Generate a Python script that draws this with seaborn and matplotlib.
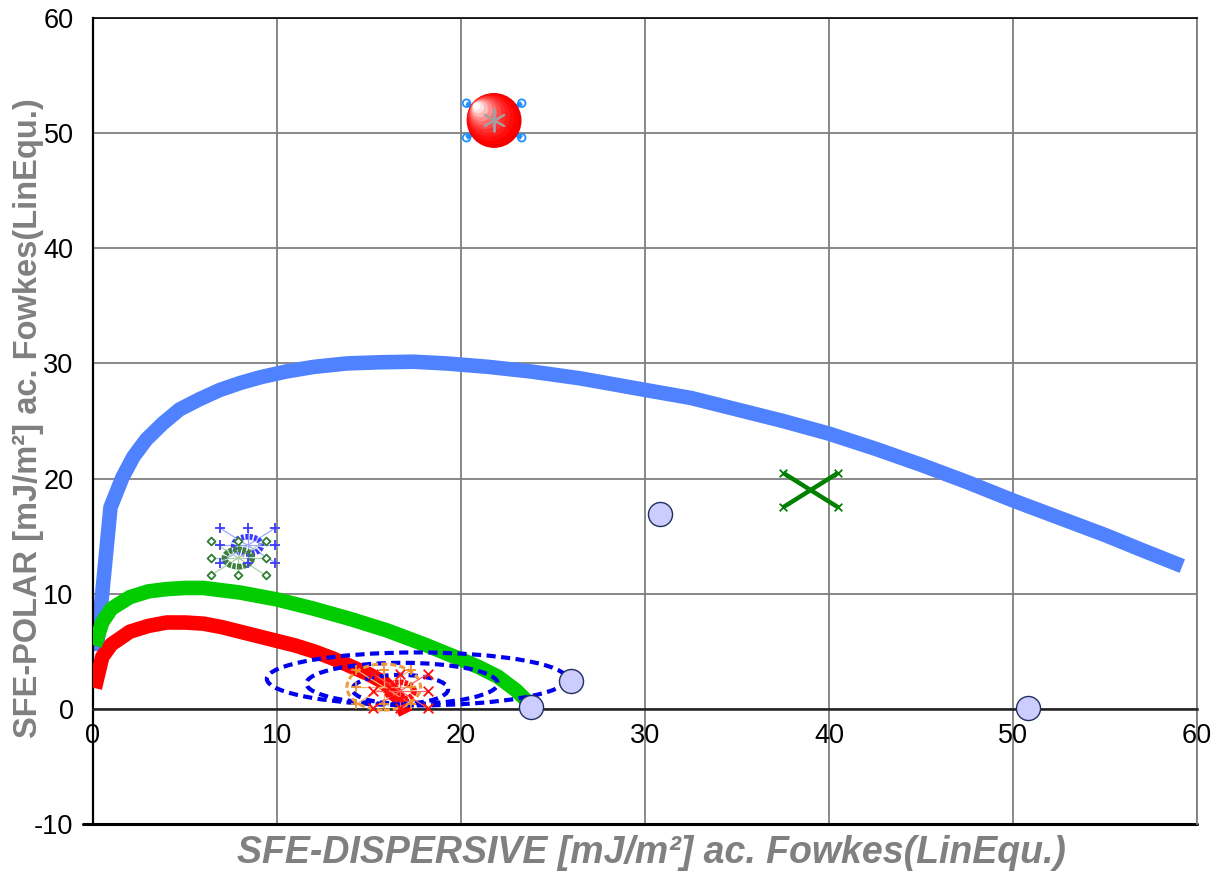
import matplotlib
matplotlib.use("Agg")
import numpy as np
import pandas as pd
import matplotlib.pyplot as plt
from matplotlib.patches import Ellipse
import seaborn as sns

# ---- wetting envelopes (theta = 0) ----
env_blue_x = [0.2, 0.95, 1.3, 1.6, 2.2, 2.9, 3.8, 4.7, 5.8, 6.9, 8.0, 9.1, 10.5, 12.0, 13.8, 15.6, 17.4,
              19.2, 21.5, 23.8, 26.5, 30.0, 32.5, 35.0, 37.5, 40.0, 42.5, 45.0, 47.5, 50.0, 52.5, 55.0, 57.0, 59.2]
env_blue_y = [5.0, 17.5, 18.9, 20.1, 21.9, 23.4, 24.8, 26.0, 26.9, 27.7, 28.3, 28.8, 29.3, 29.7, 30.0, 30.1, 30.15,
              30.0, 29.7, 29.3, 28.7, 27.7, 27.0, 26.0, 25.0, 23.9, 22.6, 21.2, 19.7, 18.1, 16.6, 15.1, 13.8, 12.4]

env_green_x = [0.1, 0.5, 1.0, 2.0, 3.0, 4.0, 5.0, 6.0, 7.0, 8.0, 9.0, 10.0, 12.0, 14.0, 16.0, 18.0, 20.0, 21.0, 22.0, 23.0, 23.5, 23.8]
env_green_y = [5.5, 7.5, 8.7, 9.7, 10.2, 10.4, 10.5, 10.5, 10.3, 10.1, 9.8, 9.5, 8.7, 7.8, 6.8, 5.6, 4.3, 3.6, 2.8, 1.6, 0.8, -0.2]

env_red_x = [0.1, 0.5, 1.0, 2.0, 3.0, 4.0, 5.0, 6.0, 7.0, 8.0, 9.0, 10.0, 11.0, 12.0, 13.0, 14.0, 15.0, 15.8, 16.5, 17.0]
env_red_y = [1.8, 4.5, 5.6, 6.7, 7.2, 7.5, 7.5, 7.4, 7.1, 6.7, 6.3, 5.9, 5.5, 5.0, 4.4, 3.7, 3.0, 2.3, 1.2, -0.4]

# ---- confidence ellipses of the sample (centre x, centre y, half-width, half-height) ----
ell_cx = [17.6, 16.8, 16.7]
ell_cy = [2.6, 2.2, 1.7]
ell_rx = [8.15, 5.2, 2.6]
ell_ry = [2.3, 1.8, 1.25]

# ---- liquids / samples with spread ----
grp_names = ["blue_plus", "green_diamond", "orange_plus", "red_x"]
grp_cx = [8.4, 7.9, 15.8, 16.7]
grp_cy = [14.2, 13.1, 1.9, 1.55]
grp_ring = [0.75, 0.75, 2.0, 0.75]
grp_spread = [1.5, 1.5, 1.5, 1.5]

cross_cx = [21.8, 39.0]
cross_cy = [51.1, 19.0]
cross_spread = [1.5, 1.5]

# ---- single liquid points ----
liq_x = [30.8, 26.0, 23.8, 50.8]
liq_y = [16.9, 2.4, 0.2, 0.1]

x_ticks = [0, 10, 20, 30, 40, 50, 60]
y_ticks = [-10, 0, 10, 20, 30, 40, 50, 60]

sns.set_theme(style="white")
plt.rcParams["font.family"] = ["Liberation Sans", "DejaVu Sans"]
plt.rcParams["axes.unicode_minus"] = False

fig = plt.figure(figsize=(12.12, 8.76), dpi=100)
ax = fig.add_axes([93 / 1212, 52 / 876, 1104 / 1212, 806 / 876])
ax.set_xlim(0, 60)
ax.set_ylim(-10, 60)

# envelopes
for xs, ys, col in [(env_red_x, env_red_y, "#FF0000"),
                    (env_green_x, env_green_y, "#00CC00"),
                    (env_blue_x, env_blue_y, "#5082FF")]:
    df = pd.DataFrame({"x": xs, "y": ys})
    sns.lineplot(data=df, x="x", y="y", sort=False, ax=ax, color=col,
                 lw=10.5, solid_capstyle="butt", solid_joinstyle="round", zorder=3)
# blue envelope under the green one near the origin
ax.lines[-1].set_zorder(2.5)

# confidence ellipses
for cx, cy, rx, ry in zip(ell_cx, ell_cy, ell_rx, ell_ry):
    ax.add_patch(Ellipse((cx, cy), 2 * rx, 2 * ry, fill=False, edgecolor="#0000EE",
                         lw=3.0, linestyle=(0, (2.2, 1.3)), zorder=4))

# spider groups
arm_dirs = [(-1, 1), (0, 1), (1, 1), (-1, 0), (1, 0), (-1, -1), (0, -1), (1, -1)]
styles = {
    "blue_plus": dict(line="#9FA8FF", mk="+", mc="#3C3CFF", ring="#3C3CFF", face="none",
                      rlw=4.2, rls=(0, (0.5, 0.25))),
    "green_diamond": dict(line="#A8D0A8", mk="D", mc="#2E7D32", ring="#3F7F3F", face="white",
                          rlw=4.2, rls=(0, (0.6, 0.2))),
    "orange_plus": dict(line="#F4B070", mk="+", mc="#F09030", ring="#EE9A40", face="none",
                        rlw=2.2, rls=(0, (2.0, 1.0))),
    "red_x": dict(line="#FF6060", mk="x", mc="#FF1010", ring="#FF1010", face="none",
                  rlw=4.2, rls=(0, (0.6, 0.2))),
}
for name, cx, cy, rr, sp in zip(grp_names, grp_cx, grp_cy, grp_ring, grp_spread):
    st = styles[name]
    px = [cx + d[0] * sp for d in arm_dirs]
    py = [cy + d[1] * sp for d in arm_dirs]
    for qx, qy in zip(px, py):
        ax.plot([cx, qx], [cy, qy], color=st["line"], lw=0.9, zorder=5)
    ax.add_patch(Ellipse((cx, cy), 2 * rr, 2 * rr, fill=False, edgecolor=st["ring"],
                         lw=st["rlw"], linestyle=st["rls"], zorder=5))
    sns.scatterplot(x=px, y=py, ax=ax, marker=st["mk"], s=48 if st["mk"] != "D" else 16,
                    color=st["mc"], edgecolor=st["mc"] if st["mk"] == "D" else None,
                    facecolor=st["face"] if st["mk"] == "D" else None,
                    linewidth=1.3, zorder=6, legend=False)

# crosses with spread
cross_cols = ["#1E90FF", "#008000"]
cross_mk = ["o", "x"]
for cx, cy, sp, col, mk in zip(cross_cx, cross_cy, cross_spread, cross_cols, cross_mk):
    for dx, dy in [(-1, 1), (1, 1), (-1, -1), (1, -1)]:
        ax.plot([cx, cx + dx * sp], [cy, cy + dy * sp], color=col, lw=3.2,
                solid_capstyle="butt", zorder=6)
    ends_x = [cx + dx * sp for dx, dy in [(-1, 1), (1, 1), (-1, -1), (1, -1)]]
    ends_y = [cy + dy * sp for dx, dy in [(-1, 1), (1, 1), (-1, -1), (1, -1)]]
    sns.scatterplot(x=ends_x, y=ends_y, ax=ax, marker=mk, s=30,
                    color=col if mk == "x" else "none", edgecolor=col, linewidth=1.3,
                    zorder=6, legend=False)

# single liquids
sns.scatterplot(x=liq_x, y=liq_y, ax=ax, s=300, color="#CCCCFF", edgecolor="#1F3060",
                linewidth=1.0, zorder=7, legend=False)

# shaded sphere for the sample
sx, sy = cross_cx[0], cross_cy[0]
shades = ["#F00000", "#FF0000", "#FF0C0C", "#FF1C1C", "#FF3030", "#FF4A4A", "#FF6A6A",
          "#FF9090", "#FFB8B8", "#FFE0E0", "#FFFFFF"]
sizes = [1560, 1350, 1120, 900, 700, 520, 370, 240, 140, 70, 28]
for i, (c, s) in enumerate(zip(shades, sizes)):
    f = i / (len(shades) - 1)
    ax.scatter([sx - 0.95 * f], [sy + 1.25 * f], s=s, color=c, edgecolors="none", zorder=8 + i * 0.01)
ax.scatter([sx], [sy], s=260, marker=(6, 2, 0), color="#A0A0A0", linewidths=1.4, zorder=9)

# axes cosmetics
ax.set_xticks(x_ticks)
ax.set_yticks(y_ticks)
ax.grid(True, color="#7F7F7F", lw=1.3, zorder=1)
ax.set_axisbelow(True)
ax.spines["bottom"].set_position(("data", 0))
ax.spines["bottom"].set_color("#202020")
ax.spines["bottom"].set_linewidth(1.8)
ax.spines["left"].set_color("black")
ax.spines["left"].set_linewidth(1.6)
ax.spines["top"].set_color("black")
ax.spines["top"].set_linewidth(1.2)
ax.spines["right"].set_color("#7F7F7F")
ax.spines["right"].set_linewidth(1.3)
ax.axhline(-10, color="black", lw=2.2, clip_on=False, zorder=2)
ax.plot([-10 / 18.4, 0], [-10, -10], color="black", lw=2.2, clip_on=False)

ax.tick_params(axis="y", direction="out", length=10, width=1.2, color="#606060",
               labelsize=19.5, pad=4, labelcolor="black")
ax.tick_params(axis="x", direction="out", length=0, labelsize=19.5, pad=10, labelcolor="black")
for lab in ax.get_xticklabels():
    lab.set_zorder(10)

ax.set_xlabel("")
ax.set_ylabel("")
fig.text(651 / 1212, 1 - 853 / 876, "SFE-DISPERSIVE [mJ/m²] ac. Fowkes(LinEqu.)",
         ha="center", va="center", fontsize=27, fontweight="bold", fontstyle="italic",
         color="#808080")
fig.text(28 / 1212, 1 - 418 / 876, "SFE-POLAR [mJ/m²] ac. Fowkes(LinEqu.)",
         ha="center", va="center", rotation=90, fontsize=23.5, fontweight="bold",
         color="#808080")

fig.savefig("out.png", dpi=100)
